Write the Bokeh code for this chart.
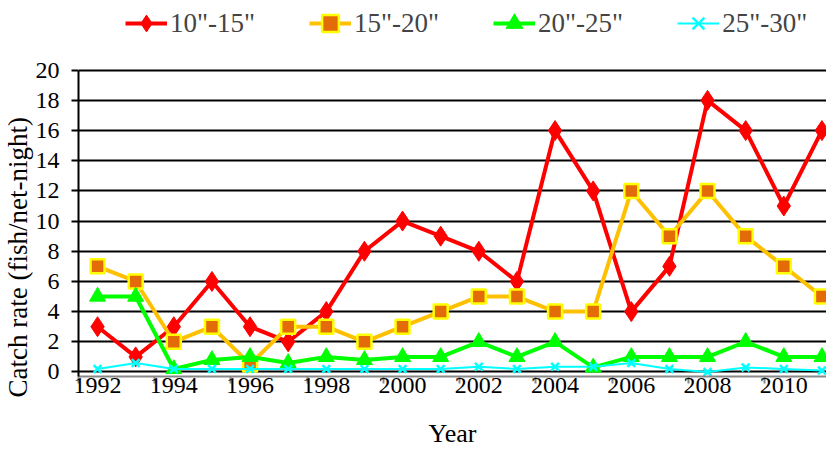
from bokeh.plotting import figure
from bokeh.models import Range1d, FixedTicker, Legend, LegendItem, ColumnDataSource, Title
from bokeh.embed import file_html
from bokeh.resources import INLINE

years = list(range(1992, 2012))
s10_15 = [3, 1, 3, 6, 3, 2, 4, 8, 10, 9, 8, 6, 16, 12, 4, 7, 18, 16, 11, 16]
s15_20 = [7, 6, 2, 3, 0.5, 3, 3, 2, 3, 4, 5, 5, 4, 4, 12, 9, 12, 9, 7, 5]
s20_25 = [5, 5, 0.2, 0.8, 1, 0.6, 1, 0.8, 1, 1, 2, 1, 2, 0.3, 1, 1, 1, 2, 1, 1]
s25_30 = [0.2, 0.6, 0.2, 0.2, 0.2, 0.2, 0.2, 0.2, 0.2, 0.2, 0.35, 0.2, 0.35, 0.35, 0.6, 0.2, 0.0, 0.3, 0.2, 0.1]
labels = ['10"-15"', '15"-20"', '20"-25"', '25"-30"']
label_years = [1992, 1994, 1996, 1998, 2000, 2002, 2004, 2006, 2008, 2010]
boundary_years = [y - 0.5 for y in range(1992, 2013, 2)]
y_ticks = list(range(0, 21, 2))

FONT = "Liberation Serif"

p = figure(width=826, height=450, output_backend="svg", toolbar_location=None,
           x_range=Range1d(1991.5, 2011.12), y_range=Range1d(-0.3, 24.62),
           min_border_left=75, min_border_right=0, min_border_top=0, min_border_bottom=69)
p.outline_line_color = None
p.xgrid.grid_line_color = None
p.ygrid.ticker = FixedTicker(ticks=y_ticks)
p.ygrid.grid_line_color = "black"
p.ygrid.grid_line_width = 2

# x axis
xa = p.xaxis[0]
xa.ticker = FixedTicker(ticks=label_years, minor_ticks=boundary_years)
xa.major_tick_line_color = None
xa.major_tick_out = 0
xa.major_tick_in = 0
xa.minor_tick_out = 7
xa.minor_tick_in = 0
xa.minor_tick_line_color = "#888888"
xa.minor_tick_line_width = 2
xa.axis_line_color = "#888888"
xa.axis_line_width = 2
xa.major_label_text_font = FONT
xa.major_label_text_font_size = "24px"
xa.major_label_text_color = "black"
xa.major_label_standoff = -6
xa.axis_label = "Year"
xa.axis_label_text_font = FONT
xa.axis_label_text_font_size = "26px"
xa.axis_label_text_font_style = "normal"
xa.axis_label_text_color = "black"
xa.axis_label_standoff = 23

ya = p.yaxis[0]
ya.ticker = FixedTicker(ticks=y_ticks)
ya.bounds = (-0.3, 20)
ya.minor_tick_line_color = None
ya.major_tick_out = 7
ya.major_tick_in = 0
ya.major_tick_line_color = "black"
ya.major_tick_line_width = 2
ya.axis_line_color = "black"
ya.axis_line_width = 2
ya.major_label_text_font = FONT
ya.major_label_text_font_size = "24px"
ya.major_label_text_color = "black"
ya.major_label_standoff = 12

ytitle = Title(text="Catch rate (fish/net-night)", align="left", offset=-21,
               text_font=FONT, text_font_size="27px", text_font_style="normal",
               text_color="black", standoff=0)
p.add_layout(ytitle, "left")

src = ColumnDataSource(dict(x=years, a=s10_15, b=s15_20, c=s20_25, d=s25_30))

l1 = p.line("x", "a", source=src, line_color="#FF0000", line_width=4)
m1 = p.scatter("x", "a", source=src, marker="diamond", size=20, fill_color="#FF0000", line_color="#FF0000")
l2 = p.line("x", "b", source=src, line_color="#FFC000", line_width=4)
m2 = p.scatter("x", "b", source=src, marker="square", size=14, fill_color="#E36C09", line_color="#FFFF00", line_width=2.5)
l3 = p.line("x", "c", source=src, line_color="#00FF00", line_width=4)
m3 = p.scatter("x", "c", source=src, marker="triangle", size=16, fill_color="#00FF00", line_color="#00FF00")
l4 = p.line("x", "d", source=src, line_color="#00FFFF", line_width=2)
m4 = p.scatter("x", "d", source=src, marker="x", size=11, line_color="#00FFFF", line_width=2.5)

legend = Legend(items=[LegendItem(label=labels[0], renderers=[l1, m1]),
                       LegendItem(label=labels[1], renderers=[l2, m2]),
                       LegendItem(label=labels[2], renderers=[l3, m3]),
                       LegendItem(label=labels[3], renderers=[l4, m4])],
                orientation="horizontal", location=(47, 332),
                label_text_font=FONT, label_text_font_size="27px",
                glyph_width=42, glyph_height=42, label_standoff=3, spacing=54,
                padding=0, margin=0, border_line_color=None, background_fill_alpha=0)
p.add_layout(legend, "center")

open("out.html", "w").write(file_html(p, INLINE))
